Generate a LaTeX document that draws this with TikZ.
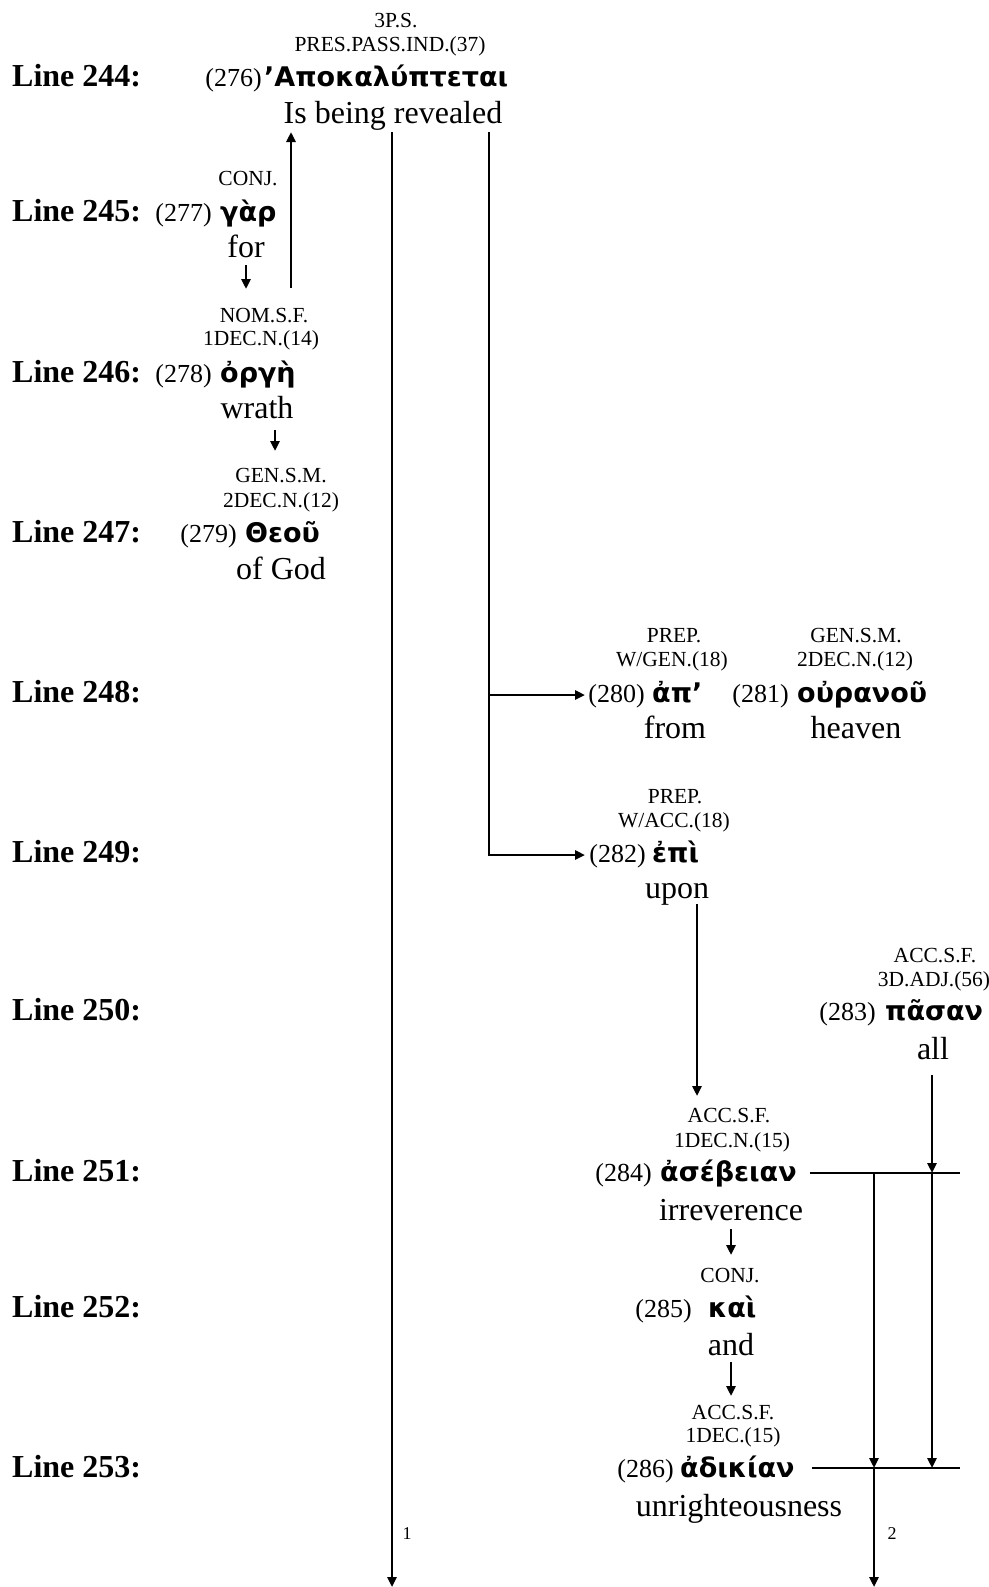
\documentclass[tikz,border=0pt]{standalone}
\usepackage{fontspec}
\setmainfont{Liberation Serif}
\newfontfamily\grkfont{DejaVu Sans}
\usetikzlibrary{arrows.meta}
\tikzset{
  lab/.style={font={\fontsize{32}{34}\selectfont\bfseries}, anchor=base west, inner sep=0pt},
  num/.style={font={\fontsize{26}{30}\selectfont}, anchor=base east, inner sep=0pt},
  grk/.style={font={\grkfont\bfseries\fontsize{27}{30}\selectfont}, anchor=base west, inner sep=0pt},
  gl/.style={font={\fontsize{32}{36}\selectfont}, anchor=base, inner sep=0pt},
  mor/.style={font={\fontsize{21.5}{24}\selectfont}, anchor=base, inner sep=0pt},
  tag/.style={font={\fontsize{18}{20}\selectfont}, anchor=base, inner sep=0pt},
  ln/.style={line width=2.5pt},
  arr/.style={line width=2.5pt, -{Triangle[length=10pt,width=9pt]}},
}
\begin{document}
\begin{tikzpicture}[x=1pt,y=-1pt]
\useasboundingbox (0,0) rectangle (988,1587);
% line labels
\node[lab] (L244) at (12,86) {Line 244:};
\node[lab] (L245) at (12,221) {Line 245:};
\node[lab] (L246) at (12,382) {Line 246:};
\node[lab] (L247) at (12,542) {Line 247:};
\node[lab] (L248) at (12,702) {Line 248:};
\node[lab] (L249) at (12,862) {Line 249:};
\node[lab] (L250) at (12,1020) {Line 250:};
\node[lab] (L251) at (12,1181) {Line 251:};
\node[lab] (L252) at (12,1317) {Line 252:};
\node[lab] (L253) at (12,1477) {Line 253:};
% 276
\node[mor] (m276a) at (396,28) {3P.S.};
\node[mor] (m276b) at (390,52) {PRES.PASS.IND.(37)};
\node[num] (n276) at (262,86) {(276)};
\node[grk] (g276) at (264,86) {’Αποκαλύπτεται};
\node[gl] (e276) at (393,123) {Is being revealed};
% 277
\node[mor] (m277a) at (248,185) {CONJ.};
\node[num] (n277) at (212,221) {(277)};
\node[grk] (g277) at (220,221) {γὰρ};
\node[gl] (e277) at (246,257) {for};
% 278
\node[mor] (m278a) at (264,322) {NOM.S.F.};
\node[mor] (m278b) at (261,345) {1DEC.N.(14)};
\node[num] (n278) at (212,382) {(278)};
\node[grk] (g278) at (220,382) {ὀργὴ};
\node[gl] (e278) at (257,418) {wrath};
% 279
\node[mor] (m279a) at (281,482) {GEN.S.M.};
\node[mor] (m279b) at (281,507) {2DEC.N.(12)};
\node[num] (n279) at (237,542) {(279)};
\node[grk] (g279) at (245,542) {Θεοῦ};
\node[gl] (e279) at (281,579) {of God};
% 280
\node[mor] (m280a) at (674,642) {PREP.};
\node[mor] (m280b) at (672,666) {W/GEN.(18)};
\node[num] (n280) at (645,702) {(280)};
\node[grk] (g280) at (652,702) {ἀπ’};
\node[gl] (e280) at (675,738) {from};
% 281
\node[mor] (m281a) at (856,642) {GEN.S.M.};
\node[mor] (m281b) at (855,666) {2DEC.N.(12)};
\node[num] (n281) at (789,702) {(281)};
\node[grk] (g281) at (797,702) {οὐρανοῦ};
\node[gl] (e281) at (856,738) {heaven};
% 282
\node[mor] (m282a) at (675,803) {PREP.};
\node[mor] (m282b) at (674,827) {W/ACC.(18)};
\node[num] (n282) at (646,862) {(282)};
\node[grk] (g282) at (652,862) {ἐπὶ};
\node[gl] (e282) at (677,898) {upon};
% 283
\node[mor] (m283a) at (935,962) {ACC.S.F.};
\node[mor] (m283b) at (934,986) {3D.ADJ.(56)};
\node[num] (n283) at (876,1020) {(283)};
\node[grk] (g283) at (885,1020) {πᾶσαν};
\node[gl] (e283) at (933,1059) {all};
% 284
\node[mor] (m284a) at (729,1122) {ACC.S.F.};
\node[mor] (m284b) at (732,1147) {1DEC.N.(15)};
\node[num] (n284) at (652,1181) {(284)};
\node[grk] (g284) at (660,1181) {ἀσέβειαν};
\node[gl] (e284) at (731,1220) {irreverence};
% 285
\node[mor] (m285a) at (730,1282) {CONJ.};
\node[num] (n285) at (692,1317) {(285)};
\node[grk] (g285) at (708,1317) {καὶ};
\node[gl] (e285) at (731,1355) {and};
% 286
\node[mor] (m286a) at (733,1419) {ACC.S.F.};
\node[mor] (m286b) at (733,1442) {1DEC.(15)};
\node[num] (n286) at (674,1477) {(286)};
\node[grk] (g286) at (680,1477) {ἀδικίαν};
\node[gl] (e286) at (739,1516) {unrighteousness};
% coordinates
\coordinate (v1t) at (392,132);
\coordinate (v1b) at (392,1587);
\coordinate (v2t) at (489,132);
\coordinate (j248) at (489,695);
\coordinate (t280) at (585,695);
\coordinate (t282) at (585,855);
\coordinate (up0) at (291,288);
\coordinate (up1) at (291,132);
\coordinate (s277a) at (246,265);
\coordinate (s277b) at (246,289);
\coordinate (s278a) at (275,430);
\coordinate (s278b) at (275,451);
\coordinate (upon0) at (697,904);
\coordinate (upon1) at (697,1096);
\coordinate (all0) at (932,1075);
\coordinate (all1) at (932,1173);
\coordinate (h251a) at (810,1173);
\coordinate (h251b) at (960,1173);
\coordinate (c1a) at (874,1173);
\coordinate (c1b) at (874,1468);
\coordinate (c2b) at (932,1468);
\coordinate (h253a) at (812,1468);
\coordinate (h253b) at (960,1468);
\coordinate (v3b) at (874,1587);
\coordinate (s284a) at (731,1229);
\coordinate (s284b) at (731,1255);
\coordinate (s285a) at (731,1362);
\coordinate (s285b) at (731,1396);
% connectors
\draw[arr] (v1t) -- (v1b);
\node[tag] (lab1) at (407,1539) {1};
\draw[arr] (v2t) |- (t282);
\draw[arr] (j248) -- (t280);
\draw[arr] (up0) -- (up1);
\draw[arr] (s277a) -- (s277b);
\draw[arr] (s278a) -- (s278b);
\draw[arr] (upon0) -- (upon1);
\draw[arr] (all0) -- (all1);
\draw[ln] (h251a) -- (h251b);
\draw[arr] (c1a) -- (c1b);
\draw[arr] (all1) -- (c2b);
\draw[ln] (h253a) -- (h253b);
\draw[arr] (c1b) -- (v3b);
\node[tag] (lab2) at (892,1539) {2};
\draw[arr] (s284a) -- (s284b);
\draw[arr] (s285a) -- (s285b);
\end{tikzpicture}
\end{document}
